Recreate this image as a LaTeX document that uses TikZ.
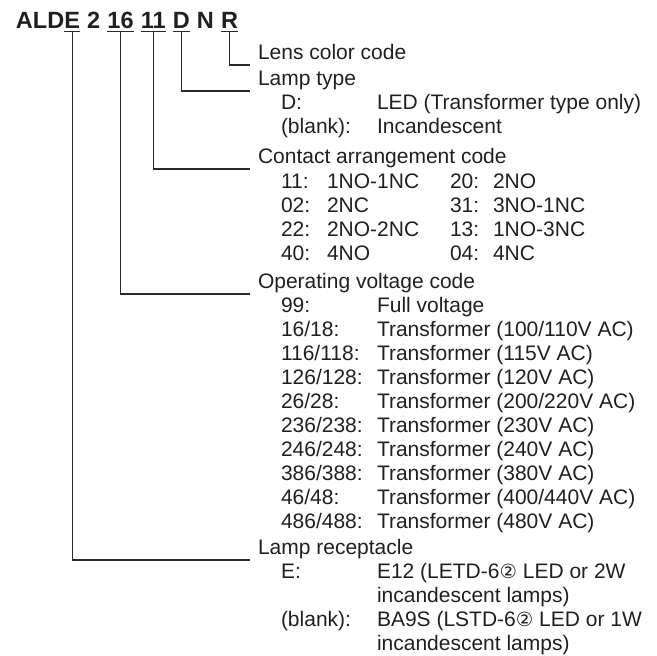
\documentclass[tikz,border=0pt]{standalone}
\usepackage{fontspec}
\setmainfont{Liberation Sans}
\newfontfamily\symfont{DejaVu Sans}
\definecolor{txt}{HTML}{231F20}
\definecolor{ln}{HTML}{2A2A2A}
\newcommand{\cir}{{\symfont\fontsize{19.5}{22}\selectfont ②}}
\tikzset{
  lbl/.style={anchor=base west, inner sep=0pt, outer sep=0pt, font=\fontsize{21}{24}\selectfont, text=txt},
  ttl/.style={anchor=base west, inner sep=0pt, outer sep=0pt, font=\fontsize{23.5}{26}\selectfont\bfseries, text=txt},
  conn/.style={line width=1.1pt, draw=ln},
  uline/.style={line width=1.5pt, draw=ln}
}
\begin{document}
\begin{tikzpicture}[x=1pt,y=-1pt]
\useasboundingbox (0,0) rectangle (657,656);
% title
\node[ttl] (tALD) at (16,28) {ALD};
\node[ttl] (tE) at (tALD.base east) {E};
\node[ttl] (t2) at ([xshift=7.2pt]tE.base east) {2};
\node[ttl] (t16) at ([xshift=7.2pt]t2.base east) {16};
\node[ttl] (t11) at ([xshift=7.2pt]t16.base east) {11};
\node[ttl] (tD) at ([xshift=7.2pt]t11.base east) {D};
\node[ttl] (tN) at ([xshift=7.2pt]tD.base east) {N};
\node[ttl] (tR) at ([xshift=7.2pt]tN.base east) {R};
\foreach \t in {tE,t16,t11,tD,tR}
  \draw[uline] ([yshift=-3.5pt]\t.base west) -- ([yshift=-3.5pt]\t.base east);
% labels
\node[lbl] (lens) at (258,59) {Lens color code};
\node[lbl] (lamp) at (258,85) {Lamp type};
\node[lbl] (lampD) at (281,109) {D:};
\node[lbl] (lampDv) at (377,109) {LED (Transformer type only)};
\node[lbl] (lampB) at (281,133) {(blank):};
\node[lbl] (lampBv) at (377,133) {Incandescent};
\node[lbl] (cont) at (258,163) {Contact arrangement code};
\node[lbl] (c1a) at (281,188) {11:};
\node[lbl] (c1b) at (327,188) {1NO-1NC};
\node[lbl] (c1c) at (450,188) {20:};
\node[lbl] (c1d) at (493,188) {2NO};
\node[lbl] (c2a) at (281,212) {02:};
\node[lbl] (c2b) at (327,212) {2NC};
\node[lbl] (c2c) at (450,212) {31:};
\node[lbl] (c2d) at (493,212) {3NO-1NC};
\node[lbl] (c3a) at (281,236) {22:};
\node[lbl] (c3b) at (327,236) {2NO-2NC};
\node[lbl] (c3c) at (450,236) {13:};
\node[lbl] (c3d) at (493,236) {1NO-3NC};
\node[lbl] (c4a) at (281,260) {40:};
\node[lbl] (c4b) at (327,260) {4NO};
\node[lbl] (c4c) at (450,260) {04:};
\node[lbl] (c4d) at (493,260) {4NC};
\node[lbl] (oper) at (258,288) {Operating voltage code};
\node[lbl] (v0a) at (281,312) {99:};
\node[lbl] (v0b) at (377,312) {Full voltage};
\node[lbl] (v1a) at (281,336) {16/18:};
\node[lbl] (v1b) at (377,336) {Transformer (100/110V AC)};
\node[lbl] (v2a) at (281,360) {116/118:};
\node[lbl] (v2b) at (377,360) {Transformer (115V AC)};
\node[lbl] (v3a) at (281,384) {126/128:};
\node[lbl] (v3b) at (377,384) {Transformer (120V AC)};
\node[lbl] (v4a) at (281,408) {26/28:};
\node[lbl] (v4b) at (377,408) {Transformer (200/220V AC)};
\node[lbl] (v5a) at (281,432) {236/238:};
\node[lbl] (v5b) at (377,432) {Transformer (230V AC)};
\node[lbl] (v6a) at (281,456) {246/248:};
\node[lbl] (v6b) at (377,456) {Transformer (240V AC)};
\node[lbl] (v7a) at (281,480) {386/388:};
\node[lbl] (v7b) at (377,480) {Transformer (380V AC)};
\node[lbl] (v8a) at (281,504) {46/48:};
\node[lbl] (v8b) at (377,504) {Transformer (400/440V AC)};
\node[lbl] (v9a) at (281,528) {486/488:};
\node[lbl] (v9b) at (377,528) {Transformer (480V AC)};
\node[lbl] (rec) at (258,554) {Lamp receptacle};
\node[lbl] (r1a) at (281,578) {E:};
\node[lbl] (r1b) at (377,578) {E12 (LETD-6\cir\ LED or 2W};
\node[lbl] (r1c) at (377,602) {incandescent lamps)};
\node[lbl] (r2a) at (281,626) {(blank):};
\node[lbl] (r2b) at (377,626) {BA9S (LSTD-6\cir\ LED or 1W};
\node[lbl] (r2c) at (377,650) {incandescent lamps)};
% connectors
\draw[conn] ([yshift=-3.5pt]tR.base) |- ([xshift=-8pt,yshift=-6pt]lens.base west);
\draw[conn] ([yshift=-3.5pt]tD.base) |- ([xshift=-8pt,yshift=-6pt]lamp.base west);
\draw[conn] ([yshift=-3.5pt]t11.base) |- ([xshift=-8pt,yshift=-6pt]cont.base west);
\draw[conn] ([yshift=-3.5pt]t16.base) |- ([xshift=-8pt,yshift=-6pt]oper.base west);
\draw[conn] ([yshift=-3.5pt]tE.base) |- ([xshift=-8pt,yshift=-6pt]rec.base west);
\end{tikzpicture}
\end{document}
